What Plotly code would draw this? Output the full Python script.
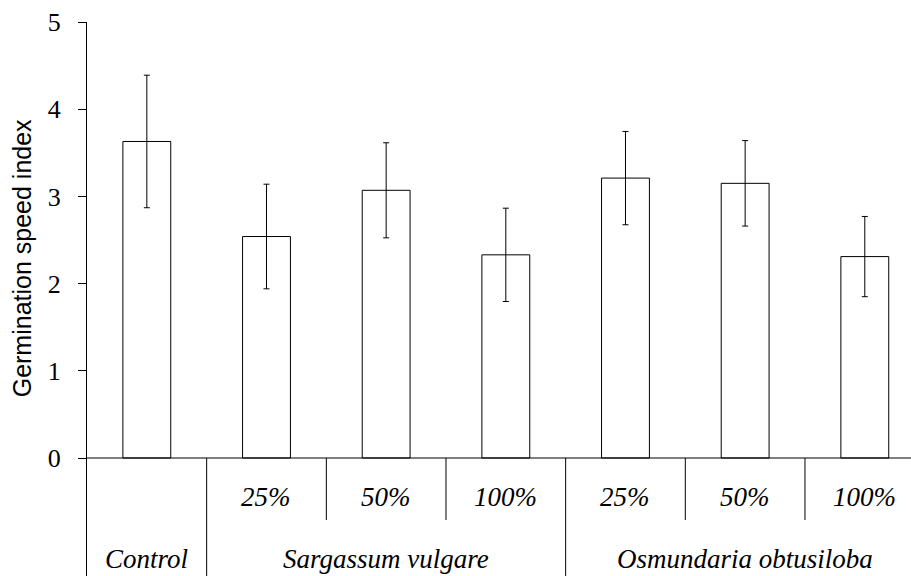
import plotly.graph_objects as go

categories = ["Control", "25%", "50%", "100%", "25%", "50%", "100%"]
groups = ["Control", "Sargassum vulgare", "Osmundaria obtusiloba"]
group_centers = [0, 2, 5]
means = [3.63, 2.54, 3.07, 2.33, 3.21, 3.15, 2.31]
errors = [0.76, 0.60, 0.545, 0.535, 0.535, 0.49, 0.46]
yticks = [0, 1, 2, 3, 4, 5]

xpos = list(range(len(categories)))
serif = "Liberation Serif"
ymin = -1.353

fig = go.Figure()
fig.add_trace(go.Bar(
    x=xpos, y=means, width=0.4,
    marker=dict(color="white", line=dict(color="black", width=1)),
    error_y=dict(type="data", array=errors, visible=True, color="black", thickness=1, width=3),
    showlegend=False, hoverinfo="skip",
))

shapes = [dict(type="line", xref="paper", yref="y", x0=0, x1=1, y0=0, y1=0,
               line=dict(color="black", width=1))]
for b in [0.5, 3.5]:
    shapes.append(dict(type="line", xref="x", yref="y", x0=b, x1=b, y0=0, y1=ymin,
                       line=dict(color="black", width=1)))
for b in [1.5, 2.5, 4.5, 5.5]:
    shapes.append(dict(type="line", xref="x", yref="y", x0=b, x1=b, y0=0, y1=-0.711,
                       line=dict(color="black", width=1)))

annotations = []
for i, c in enumerate(categories):
    if i == 0:
        continue
    annotations.append(dict(x=i, y=-0.447, xref="x", yref="y", text="<i>" + c + "</i>",
                            showarrow=False, font=dict(family=serif, size=27, color="black")))
for g, gc in zip(groups, group_centers):
    annotations.append(dict(x=gc, y=-1.16, xref="x", yref="y", text="<i>" + g + "</i>",
                            showarrow=False, font=dict(family=serif, size=27, color="black")))

annotations.append(dict(x=0, y=2.29, xref="paper", yref="y", xshift=-65, xanchor="center",
                        yanchor="middle",
                        text="Germination speed index", textangle=-90, showarrow=False,
                        font=dict(family="Liberation Sans", size=25, color="black")))

fig.update_layout(
    width=911, height=576,
    margin=dict(l=87, r=0, t=22, b=0, autoexpand=False),
    plot_bgcolor="white", paper_bgcolor="white",
    shapes=shapes, annotations=annotations,
    xaxis=dict(range=[-0.5, 6.386], showticklabels=False, showline=False,
               showgrid=False, zeroline=False, ticks="", automargin=False),
    yaxis=dict(range=[ymin, 5], tickvals=yticks, ticktext=[str(v) for v in yticks],
               ticks="outside", ticklen=8, tickcolor="black", showline=True,
               linecolor="black", linewidth=1, showgrid=False, zeroline=False,
               ticklabelstandoff=12, automargin=False,
               tickfont=dict(family=serif, size=26, color="black")),
)

fig.write_html("out.html", config={"displayModeBar": False},
               post_script="document.body.style.margin='0px';document.body.style.overflow='hidden';")
